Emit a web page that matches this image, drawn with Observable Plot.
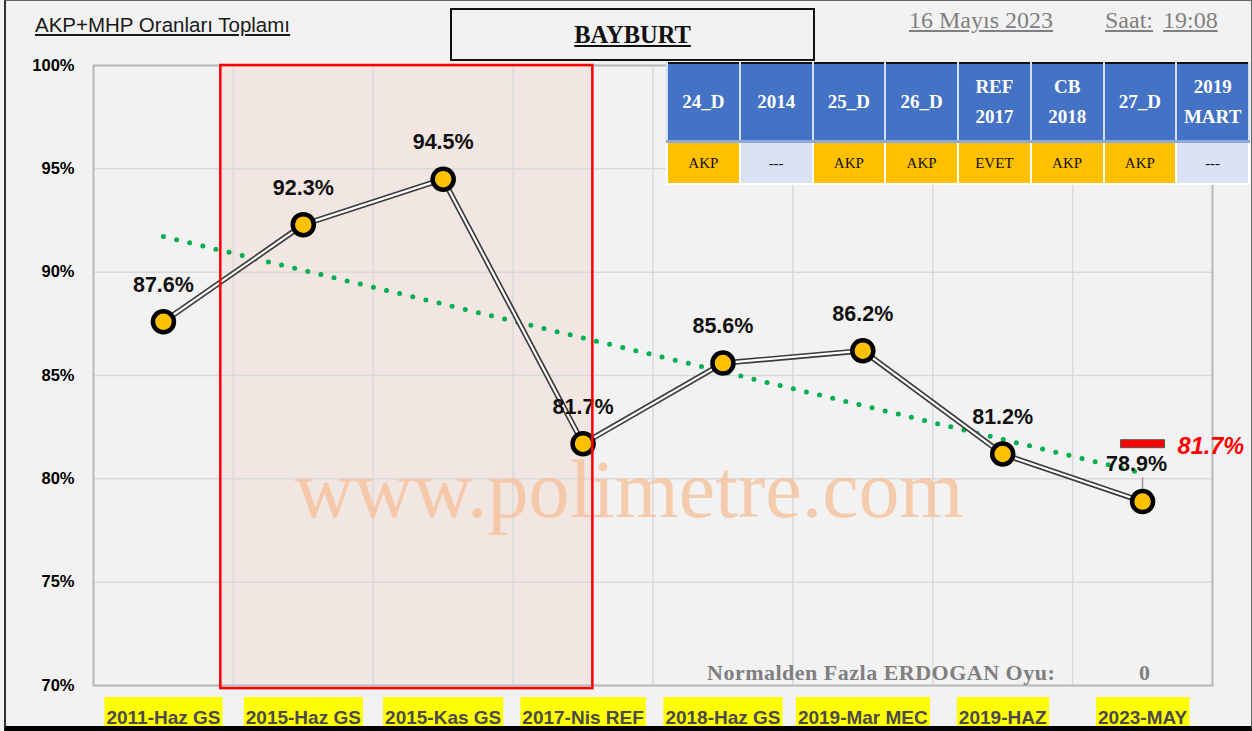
<!DOCTYPE html>
<html><head><meta charset="utf-8">
<script src="https://cdn.jsdelivr.net/npm/d3@7"></script>
<script src="https://cdn.jsdelivr.net/npm/@observablehq/plot@0.6"></script>
<style>
html,body{margin:0;padding:0;background:#f2f2f2;}
#wrap{position:relative;width:1252px;height:731px;overflow:hidden;background:#f2f2f2;}
#chart svg{position:absolute;left:0;top:0;}
.border{position:absolute;left:4px;top:0;right:0;bottom:0;box-sizing:border-box;border-left:2px solid #333;border-top:1px solid #666;border-right:1px solid #666;border-bottom:5px solid #000;pointer-events:none;}
.sub{position:absolute;left:35px;top:13px;font-family:"Liberation Sans",sans-serif;font-size:20.5px;color:#1a1a1a;text-decoration:underline;white-space:nowrap;}
.titlebox{position:absolute;left:450px;top:8px;width:365px;height:53px;box-sizing:border-box;border:2px solid #111;display:flex;align-items:center;justify-content:center;font-family:"Liberation Serif",serif;font-weight:bold;font-size:24.5px;text-decoration:underline;color:#111;}
.gray{position:absolute;font-family:"Liberation Serif",serif;font-size:24px;color:#808080;text-decoration:underline;white-space:nowrap;}
.note{position:absolute;font-family:"Liberation Serif",serif;font-weight:bold;font-size:22px;letter-spacing:0.5px;color:#7f7f7f;white-space:nowrap;}
#tbl{position:absolute;left:666px;top:62px;width:584px;height:122px;border-collapse:collapse;border:2px solid #111;table-layout:fixed;font-family:"Liberation Serif",serif;text-align:center;}
#tbl td{padding:0;}
#tbl tr.h td{background:#4472c4;color:#fff;font-weight:bold;font-size:19px;height:76px;line-height:30px;border-left:2px solid #d6def0;border-right:2px solid #d6def0;border-bottom:3px solid #8eaadb;}
#tbl tr.d td{height:40px;font-size:15px;color:#111;border:2px solid #fff;border-top:1px solid #333;}
</style>
</head><body>
<div id="wrap">
  <div id="chart"></div>
  <div class="sub">AKP+MHP Oranları Toplamı</div>
  <div class="titlebox">BAYBURT</div>
  <div class="gray" style="left:909px;top:7px;">16 Mayıs 2023</div>
  <div class="gray" style="left:1105px;top:7px;">Saat:</div>
  <div class="gray" style="left:1163px;top:7px;">19:08</div>
  <table id="tbl"></table>
  <div class="note" style="left:707px;top:660px;">Normalden Fazla ERDOGAN Oyu:</div>
  <div class="note" style="left:1139px;top:660px;">0</div>
  <div class="border"></div>
</div>
<script>
const categories = ["2011-Haz GS","2015-Haz GS","2015-Kas GS","2017-Nis REF","2018-Haz GS","2019-Mar MEC","2019-HAZ","2023-MAY"];
const values = [87.6, 92.3, 94.5, 81.7, 85.6, 86.2, 81.2, 78.9];
const yTicks = [70, 75, 80, 85, 90, 95, 100];
const targetValue = 81.7;
const tableHeaders = ["24_D","2014","25_D","26_D","REF<br>2017","CB<br>2018","27_D","2019<br>MART"];
const tableResults = ["AKP","---","AKP","AKP","EVET","AKP","AKP","---"];

// table
const tbl = document.getElementById("tbl");
tbl.innerHTML = "<tr class='h'>" + tableHeaders.map(h => `<td>${h}</td>`).join("") + "</tr>" +
  "<tr class='d'>" + tableResults.map(r => `<td style="background:${r === "---" ? "#d9e1f2" : "#ffc000"}">${r}</td>`).join("") + "</tr>";

const data = categories.map((c, i) => ({i: i + 1, cat: c, v: values[i]}));
const last = data[data.length - 1];
const shade = [{x1: 1.41, x2: 4.07, y1: 69.85, y2: 100}];
const barSymbol = {draw(ctx) { ctx.rect(-22, -4, 44, 8); }};

const chart = Plot.plot({
  width: 1252, height: 731,
  marginLeft: 93, marginRight: 40, marginTop: 65, marginBottom: 46,
  style: {background: "transparent", fontFamily: "'Liberation Sans', sans-serif", overflow: "visible"},
  x: {type: "linear", domain: [0.5, categories.length + 0.5]},
  y: {domain: [70, 100]},
  marks: [
    Plot.rect(shade, {x1: "x1", x2: "x2", y1: "y1", y2: "y2", fill: "#f1e6e2"}),
    Plot.gridY(yTicks, {stroke: "#d9d9d9", strokeOpacity: 1, strokeWidth: 1.5}),
    Plot.gridX(d3.range(1.5, categories.length), {stroke: "#d9d9d9", strokeOpacity: 1, strokeWidth: 1.5}),
    Plot.frame({stroke: "#b8b8b8", strokeWidth: 2}),
    Plot.text(["www.polimetre.com"], {frameAnchor: "middle", dx: -24, dy: 115, fontSize: 82, fontFamily: "'Liberation Serif', serif", fill: "#f5be96", fillOpacity: 0.75}),
    Plot.linearRegressionY(data, {x: "i", y: "v", ci: 0, stroke: "#00b050", strokeWidth: 5, strokeDasharray: "0 13.5", strokeLinecap: "round"}),
    Plot.line(data, {x: "i", y: "v", stroke: "#3a3a3a", strokeWidth: 5.5}),
    Plot.line(data, {x: "i", y: "v", stroke: "#ffffff", strokeWidth: 2.2}),
    Plot.ruleX([last], {x: "i", y1: d => d.v + 0.6, y2: d => d.v + 1.15, stroke: "#999", strokeWidth: 1.5}),
    Plot.dot(data, {x: "i", y: "v", r: 10.5, fill: "#ffc000", stroke: "#000", strokeWidth: 4.5}),
    Plot.text(data.slice(0, -1), {x: "i", y: "v", text: d => d.v.toFixed(1) + "%", dy: -37, fontSize: 21.5, fontWeight: "bold", fill: "#111"}),
    Plot.text([last], {x: "i", y: "v", text: d => d.v.toFixed(1) + "%", dy: -37, dx: -6, fontSize: 21.5, fontWeight: "bold", fill: "#111"}),
    Plot.rect(shade, {x1: "x1", x2: "x2", y1: "y1", y2: "y2", fill: "none", stroke: "#ff0000", strokeWidth: 2.5}),
    Plot.dot([{i: categories.length, v: targetValue}], {x: "i", y: "v", symbol: barSymbol, fill: "#ff0000", stroke: "#555", strokeWidth: 1}),
    Plot.text([{i: categories.length, v: targetValue}], {x: "i", y: "v", text: d => d.v.toFixed(1) + "%", dx: 35, dy: 3, textAnchor: "start", fontSize: 23.5, fontWeight: "bold", fontStyle: "italic", fill: "#ff0000"}),
    Plot.axisY(yTicks, {tickFormat: d => d + "%", tickSize: 0, tickPadding: 19, fontSize: 16.5, fontWeight: "bold", color: "#000"}),
    Plot.axisX(d3.range(1, categories.length + 1), {tickFormat: i => categories[i - 1], tickSize: 0, tickPadding: 25, fontSize: 19, fontWeight: "bold", color: "#4a4a4a"})
  ]
});
document.getElementById("chart").appendChild(chart);

// yellow highlight behind x labels
const svgBox = chart.getBoundingClientRect();
const labelGroup = chart.querySelector('g[aria-label="x-axis tick label"]');
if (labelGroup) {
  const ns = "http://www.w3.org/2000/svg";
  const bg = document.createElementNS(ns, "g");
  labelGroup.querySelectorAll("text").forEach(t => {
    const b = t.getBoundingClientRect();
    const r = document.createElementNS(ns, "rect");
    r.setAttribute("x", b.left - svgBox.left - 2);
    r.setAttribute("y", 697);
    r.setAttribute("width", b.width + 4);
    r.setAttribute("height", 40);
    r.setAttribute("fill", "#ffff00");
    bg.appendChild(r);
  });
  labelGroup.parentNode.insertBefore(bg, labelGroup);
}
</script>
</body></html>
